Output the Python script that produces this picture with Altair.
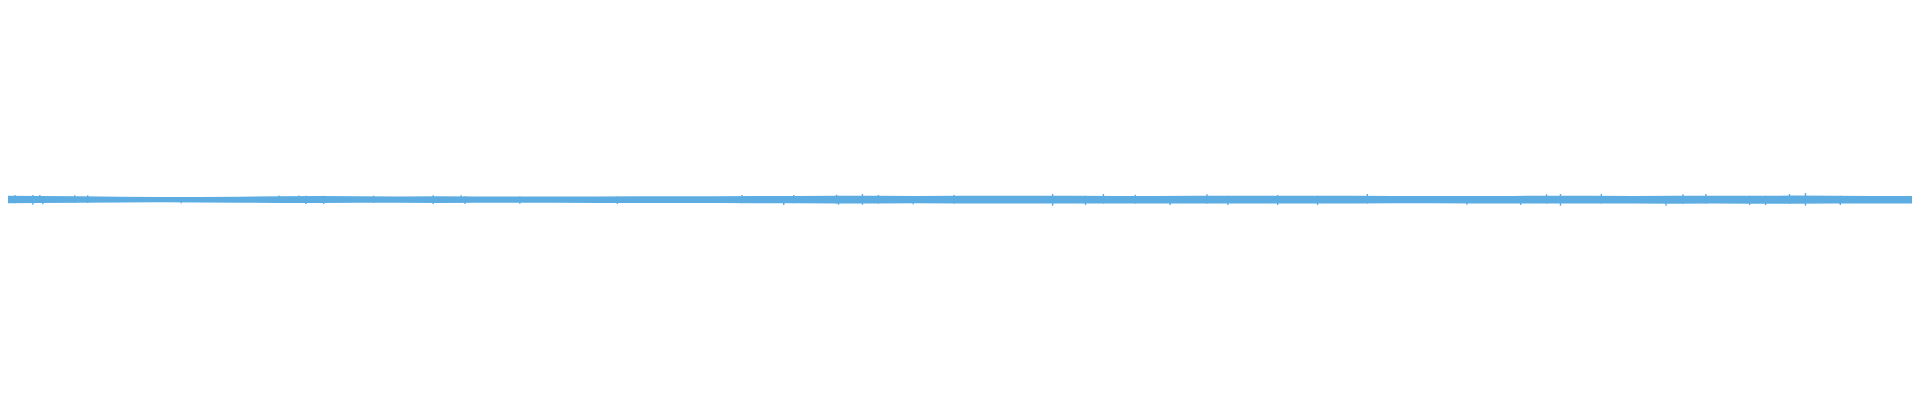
import altair as alt
import pandas as pd

# Envelope of the waveform core, sampled every 40 px of time axis (amplitude units)
seg_x = list(range(0, 1921, 40))
core_top = [4.0, 3.7, 3.5, 3.0, 2.8, 2.8, 3.0, 3.5, 3.6, 3.4, 3.3, 3.4, 3.3, 3.2, 3.2, 3.3,
            3.5, 3.4, 3.5, 3.7, 3.8, 3.9, 3.9, 3.8, 3.9, 4.0, 4.0, 3.9, 3.8, 3.8, 3.9, 4.0,
            4.0, 3.9, 4.0, 3.7, 3.6, 3.7, 3.8, 4.0, 3.9, 3.8, 4.0, 3.9, 4.0, 4.1, 3.9, 3.8, 3.8]
core_bot = [-3.6, -3.3, -3.0, -2.7, -2.6, -2.7, -3.0, -3.2, -3.3, -3.0, -3.0, -3.2, -3.0, -3.0, -3.1, -3.2,
            -3.3, -3.3, -3.4, -3.6, -3.6, -3.7, -3.7, -3.6, -3.7, -3.8, -3.9, -3.8, -3.7, -3.8, -3.8, -3.9,
            -3.9, -3.8, -3.8, -3.6, -3.6, -3.7, -3.8, -3.9, -3.9, -3.8, -4.0, -3.9, -4.0, -4.0, -3.9, -3.8, -3.8]

# Individual peaks sticking out of the core band
spike_x = [3, 15, 33, 40, 43, 75, 88, 182, 280, 300, 307, 325, 375, 435, 463, 467, 522, 620,
           745, 787, 797, 840, 842, 866, 882, 917, 958, 1057, 1090, 1108, 1140, 1175, 1212, 1233,
           1283, 1323, 1373, 1473, 1527, 1553, 1567, 1608, 1673, 1690, 1713, 1757, 1773, 1797, 1813, 1848]
spike_top = [4.7, 4.7, 4.7, 4.7, 3.7, 4.4, 4.4, 2.8, 4.2, 4.2, 4.0, 4.0, 4.0, 4.4, 4.4, 3.4, 3.2, 3.3,
             4.7, 3.7, 4.7, 5.0, 3.9, 5.7, 4.7, 3.8, 4.7, 5.7, 4.0, 5.7, 5.0, 3.8, 5.4, 4.0,
             4.7, 3.9, 5.7, 3.7, 3.8, 5.4, 5.7, 5.7, 3.8, 5.4, 5.7, 4.0, 4.0, 5.7, 6.7, 3.9]
spike_bot = [-4.0, -3.6, -5.0, -3.3, -4.6, -3.0, -3.3, -3.6, -3.3, -3.3, -4.3, -4.3, -3.0, -4.3, -3.3, -4.3, -4.0, -4.3,
             -3.6, -5.3, -3.6, -3.7, -5.0, -5.0, -3.7, -4.6, -3.7, -6.0, -5.3, -3.8, -3.7, -5.3, -3.8, -5.3,
             -5.3, -5.3, -3.8, -5.0, -5.3, -3.8, -6.0, -3.9, -6.0, -4.0, -3.9, -5.3, -5.3, -4.0, -6.0, -5.3]

COLOR = "#5DADE2"

core = pd.DataFrame({"t": seg_x, "top": core_top, "bot": core_bot})
spikes = pd.DataFrame({"t": spike_x, "top": spike_top, "bot": spike_bot})

xs = alt.Scale(domain=[8, 1920], nice=False, zero=False, padding=0)
ys = alt.Scale(domain=[-188.3, 191.7], nice=False, zero=False, padding=0)

area = alt.Chart(core).mark_area(color=COLOR, clip=True, interpolate="linear").encode(
    x=alt.X("t:Q", scale=xs, axis=None),
    y=alt.Y("top:Q", scale=ys, axis=None),
    y2="bot:Q",
)

rules = alt.Chart(spikes).mark_rule(color=COLOR, strokeWidth=1.4, clip=True).encode(
    x=alt.X("t:Q", scale=xs, axis=None),
    y=alt.Y("top:Q", scale=ys, axis=None),
    y2="bot:Q",
)

chart = alt.layer(area, rules).properties(
    width=1912, height=380, padding=0, background="white",
    autosize=alt.AutoSizeParams(type="none"),
).configure_view(stroke=None, strokeWidth=0)

chart.save("out.html", embed_options={"renderer": "svg", "actions": False})
